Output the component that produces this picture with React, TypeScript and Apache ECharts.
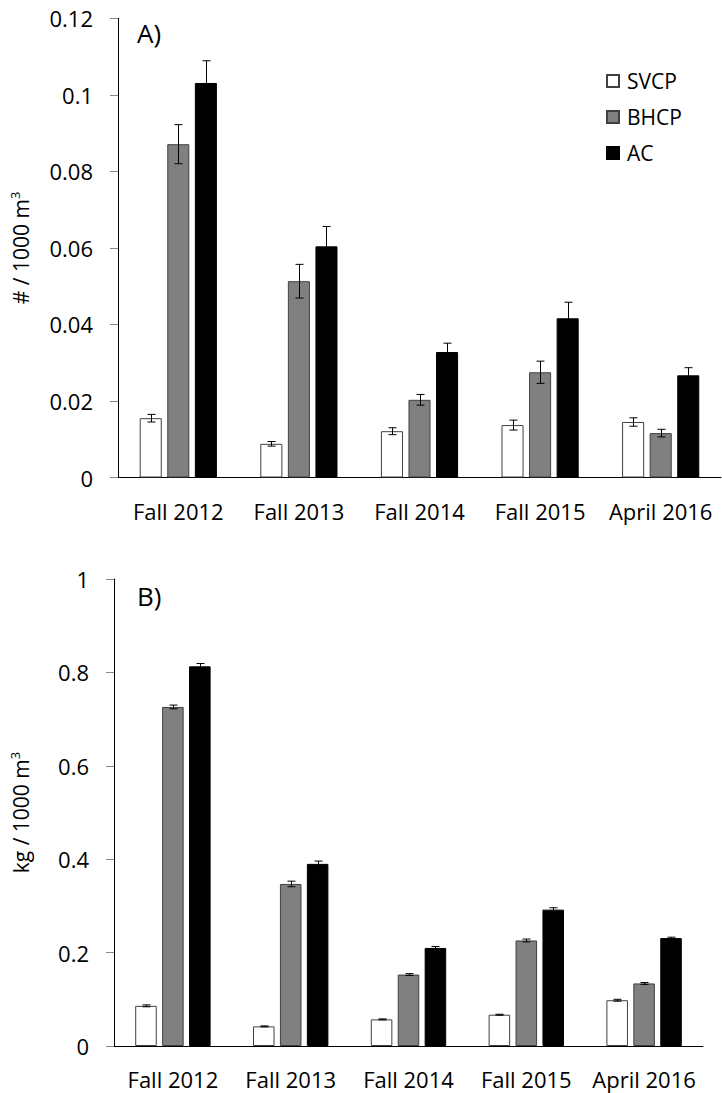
import React, { useEffect, useRef } from "react";
import * as echarts from "echarts";

const categories = ["Fall 2012", "Fall 2013", "Fall 2014", "Fall 2015", "April 2016"];
const seriesNames = ["SVCP", "BHCP", "AC"];

// Panel A: # / 1000 m3
const densitySVCP = [0.0155, 0.0088, 0.0121, 0.0137, 0.0145];
const densitySVCPErr = [0.001, 0.0006, 0.0009, 0.0013, 0.0011];
const densityBHCP = [0.0871, 0.0513, 0.0203, 0.0275, 0.0116];
const densityBHCPErr = [0.0051, 0.0044, 0.0014, 0.0029, 0.001];
const densityAC = [0.1031, 0.0604, 0.0328, 0.0416, 0.0267];
const densityACErr = [0.0058, 0.0052, 0.0023, 0.0042, 0.002];

// Panel B: kg / 1000 m3
const biomassSVCP = [0.086, 0.042, 0.057, 0.067, 0.098];
const biomassSVCPErr = [0.002, 0.001, 0.001, 0.001, 0.002];
const biomassBHCP = [0.726, 0.347, 0.153, 0.226, 0.134];
const biomassBHCPErr = [0.004, 0.006, 0.002, 0.003, 0.002];
const biomassAC = [0.813, 0.39, 0.21, 0.292, 0.231];
const biomassACErr = [0.006, 0.006, 0.003, 0.004, 0.002];

const densityTicks = { min: 0, max: 0.12, interval: 0.02 };
const biomassTicks = { min: 0, max: 1, interval: 0.2 };

const FONT = "Open Sans";
const fills = ["#ffffff", "#808080", "#000000"];
const borders = ["#404040", "#404040", "#000000"];
const CAT_GAP = 0.36;
const BAR_GAP = 0.25;

function errorRenderer(k: number) {
  return (params: any, api: any) => {
    const idx = api.value(0);
    const val = api.value(1);
    const err = api.value(2);
    const bw = api.size([1, 0])[0];
    const barW = (bw * (1 - CAT_GAP)) / (3 + 2 * BAR_GAP);
    const off = (k - 1) * barW * (1 + BAR_GAP);
    const top = api.coord([idx, val + err]);
    const bot = api.coord([idx, val - err]);
    const x = Math.round(top[0] + off) + 0.5;
    const cap = 4;
    const style = { stroke: "#000", lineWidth: 1 };
    return {
      type: "group",
      children: [
        { type: "line", shape: { x1: x, y1: top[1], x2: x, y2: bot[1] }, style },
        { type: "line", shape: { x1: x - cap, y1: top[1], x2: x + cap, y2: top[1] }, style },
        { type: "line", shape: { x1: x - cap, y1: bot[1], x2: x + cap, y2: bot[1] }, style },
      ],
    };
  };
}

function fmt(v: number) {
  return String(+v.toFixed(2));
}

export default function App() {
  const ref = useRef<HTMLDivElement>(null);
  useEffect(() => {
    if (!ref.current) return;
    const chart = echarts.init(ref.current, null, { renderer: "svg" });
    const panels = [
      { vals: [densitySVCP, densityBHCP, densityAC], errs: [densitySVCPErr, densityBHCPErr, densityACErr] },
      { vals: [biomassSVCP, biomassBHCP, biomassAC], errs: [biomassSVCPErr, biomassBHCPErr, biomassACErr] },
    ];
    const series: any[] = [];
    panels.forEach((p, gi) => {
      p.vals.forEach((vals, k) => {
        series.push({
          type: "bar",
          name: seriesNames[k],
          xAxisIndex: gi,
          yAxisIndex: gi,
          data: vals,
          barGap: `${BAR_GAP * 100}%`,
          barCategoryGap: `${CAT_GAP * 100}%`,
          itemStyle: { color: fills[k], borderColor: borders[k], borderWidth: 1 },
          emphasis: { disabled: true },
        });
      });
      p.vals.forEach((vals, k) => {
        series.push({
          type: "custom",
          name: seriesNames[k] + " error",
          xAxisIndex: gi,
          yAxisIndex: gi,
          z: 5,
          data: vals.map((v, i) => [i, v, p.errs[k][i]]),
          renderItem: errorRenderer(k),
        });
      });
    });

    const yAxisCommon = {
      type: "value",
      nameLocation: "middle",
      axisLine: { show: true, lineStyle: { color: "#000", width: 1 } },
      axisTick: { show: true, length: 8, lineStyle: { color: "#868686" } },
      splitLine: { show: false },
      axisLabel: { fontFamily: FONT, fontSize: 22, color: "#000", margin: 25, formatter: fmt },
    };
    const xAxisCommon = {
      type: "category",
      data: categories,
      axisLine: { show: true, lineStyle: { color: "#000", width: 1 } },
      axisTick: { show: false },
      axisLabel: { fontFamily: FONT, fontSize: 22, color: "#000", margin: 22, interval: 0 },
    };
    const sup = { fontFamily: FONT, fontSize: 13, color: "#000", padding: [0, 0, 13, 0] };
    chart.setOption({
      animation: false,
      backgroundColor: "#ffffff",
      textStyle: { fontFamily: FONT },
      grid: [
        { left: 116, right: 1, top: 18.3, height: 459.2 },
        { left: 112, right: 19, top: 579, height: 467 },
      ],
      xAxis: [
        { ...xAxisCommon, gridIndex: 0 },
        { ...xAxisCommon, gridIndex: 1 },
      ],
      yAxis: [
        {
          ...yAxisCommon,
          gridIndex: 0,
          ...densityTicks,
          name: "# / 1000 m{sup|3}",
          nameGap: 84,
          nameTextStyle: { fontFamily: FONT, fontSize: 21, color: "#000", rich: { sup } },
        },
        {
          ...yAxisCommon,
          gridIndex: 1,
          ...biomassTicks,
          name: "kg / 1000 m{sup|3}",
          nameGap: 80,
          nameTextStyle: { fontFamily: FONT, fontSize: 21, color: "#000", rich: { sup } },
        },
      ],
      legend: {
        data: seriesNames,
        orient: "vertical",
        left: 606,
        top: 70,
        padding: 0,
        itemWidth: 12,
        itemHeight: 12,
        itemGap: 14,
        icon: "rect",
        selectedMode: false,
        textStyle: { fontFamily: FONT, fontSize: 21, color: "#000", lineHeight: 22, padding: [0, 0, 0, 3] },
      },
      graphic: [
        { type: "text", left: 137, top: 20, style: { text: "A)", fontFamily: FONT, fontSize: 26, fill: "#000" } },
        { type: "text", left: 137, top: 583, style: { text: "B)", fontFamily: FONT, fontSize: 26, fill: "#000" } },
      ],
      series,
    });
    return () => chart.dispose();
  }, []);
  return (
    <div
      ref={ref}
      style={{ position: "absolute", left: 0, top: 0, width: 722, height: 1093, background: "#fff" }}
    />
  );
}
